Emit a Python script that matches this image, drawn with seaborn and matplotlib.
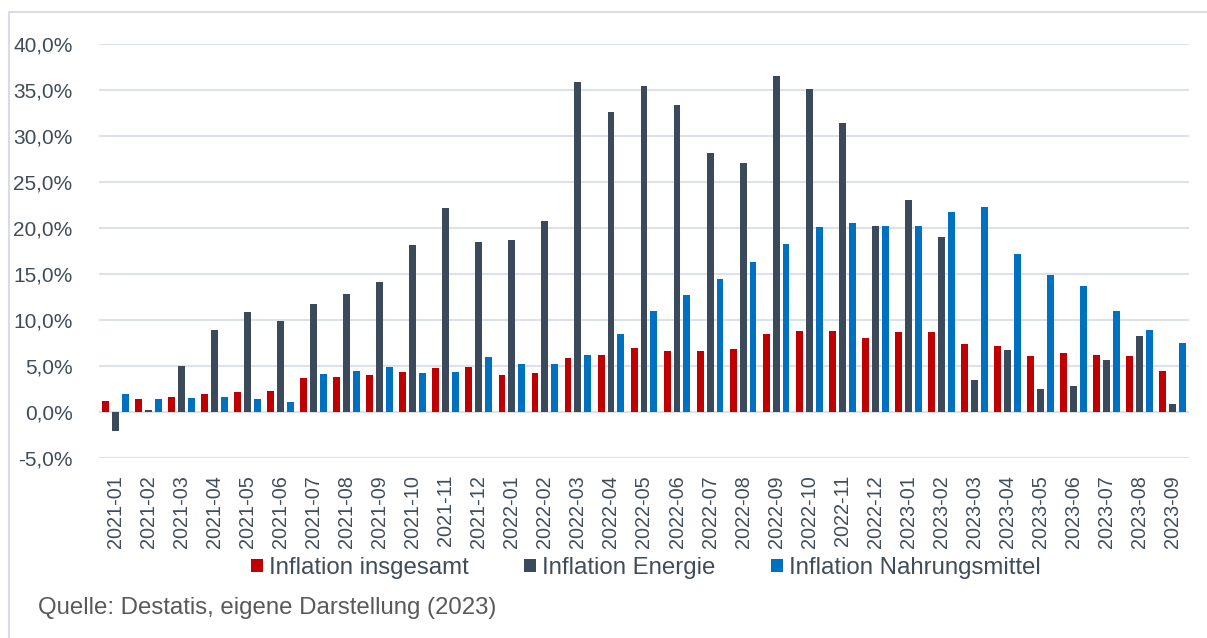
import matplotlib
matplotlib.use("Agg")
import matplotlib.pyplot as plt
from matplotlib.patches import Patch, Rectangle
from matplotlib.ticker import FuncFormatter, MultipleLocator
import seaborn as sns
import pandas as pd

months = [
    "2021-01", "2021-02", "2021-03", "2021-04", "2021-05", "2021-06",
    "2021-07", "2021-08", "2021-09", "2021-10", "2021-11", "2021-12",
    "2022-01", "2022-02", "2022-03", "2022-04", "2022-05", "2022-06",
    "2022-07", "2022-08", "2022-09", "2022-10", "2022-11", "2022-12",
    "2023-01", "2023-02", "2023-03", "2023-04", "2023-05", "2023-06",
    "2023-07", "2023-08", "2023-09",
]
insgesamt = [1.2, 1.4, 1.7, 2.0, 2.2, 2.3, 3.7, 3.8, 4.1, 4.4, 4.8, 4.9,
             4.1, 4.3, 5.9, 6.2, 7.0, 6.7, 6.7, 6.9, 8.5, 8.8, 8.8, 8.1,
             8.7, 8.7, 7.4, 7.2, 6.1, 6.4, 6.2, 6.1, 4.5]
energie = [-2.0, 0.3, 5.0, 8.9, 10.9, 9.9, 11.8, 12.9, 14.2, 18.2, 22.2, 18.5,
           18.7, 20.8, 35.9, 32.6, 35.5, 33.4, 28.2, 27.1, 36.6, 35.1, 31.4, 20.3,
           23.1, 19.1, 3.5, 6.8, 2.5, 2.9, 5.7, 8.3, 0.9]
nahrung = [2.0, 1.4, 1.6, 1.7, 1.5, 1.1, 4.2, 4.5, 4.9, 4.3, 4.4, 6.0,
           5.2, 5.3, 6.2, 8.5, 11.0, 12.7, 14.5, 16.3, 18.3, 20.1, 20.6, 20.3,
           20.2, 21.8, 22.3, 17.2, 14.9, 13.7, 11.0, 9.0, 7.5]
series_names = ["Inflation insgesamt", "Inflation Energie", "Inflation Nahrungsmittel"]
colors = ["#C00000", "#3A4A5A", "#0070C0"]
caption = "Quelle: Destatis, eigene Darstellung (2023)"

df = pd.concat([
    pd.DataFrame({"Monat": months, "Serie": name, "Wert": vals})
    for name, vals in zip(series_names, [insgesamt, energie, nahrung])
])

sns.set_theme(style="white")
plt.rcParams["font.family"] = ["Liberation Sans", "DejaVu Sans"]

W, H = 1207, 638
fig = plt.figure(figsize=(W / 100, H / 100), dpi=100)
ax = fig.add_axes([99 / W, 1 - 458.3 / H, (1189 - 99) / W, (458.3 - 44.3) / H])

sns.barplot(data=df, x="Monat", y="Wert", hue="Serie", hue_order=series_names,
            palette=colors, order=months, width=0.9, gap=0.3, ax=ax,
            legend=False, saturation=1, linewidth=0, errorbar=None)

text_col = "#404C5A"
ax.set_ylim(-5, 40)
ax.set_xlim(-0.5, len(months) - 0.5)
ax.yaxis.set_major_locator(MultipleLocator(5))
ax.yaxis.set_major_formatter(FuncFormatter(lambda v, p: f"{v:.1f}%".replace(".", ",")))
ax.grid(axis="y", color="#DDE2E9", linewidth=1.5)
ax.set_axisbelow(True)
for s in ax.spines.values():
    s.set_visible(False)
ax.set_xlabel("")
ax.set_ylabel("")
ax.tick_params(axis="y", length=0, pad=19, labelsize=15, labelcolor=text_col)
ax.tick_params(axis="x", length=0, pad=12, labelsize=14.3, labelcolor=text_col, rotation=90)

handles = [Patch(facecolor=c, edgecolor="none", label=n) for c, n in zip(colors, series_names)]
leg = fig.legend(handles=handles, loc="center", bbox_to_anchor=(646 / W, 1 - 568 / H),
                 ncol=3, frameon=False, fontsize=17.3, handlelength=0.5, handleheight=0.5,
                 handletextpad=0.25, columnspacing=2.3, borderaxespad=0)
for t in leg.get_texts():
    t.set_color(text_col)

fig.text(38 / W, 1 - 608 / H, caption, ha="left", va="center", fontsize=17.3, color="#595959")

fig.patches.append(Rectangle((9 / W, -0.1), 1.2, (1 - 12 / H) + 0.1, transform=fig.transFigure,
                             fill=False, edgecolor="#D9DDE3", linewidth=1.5))

fig.savefig("out.png", dpi=100)
